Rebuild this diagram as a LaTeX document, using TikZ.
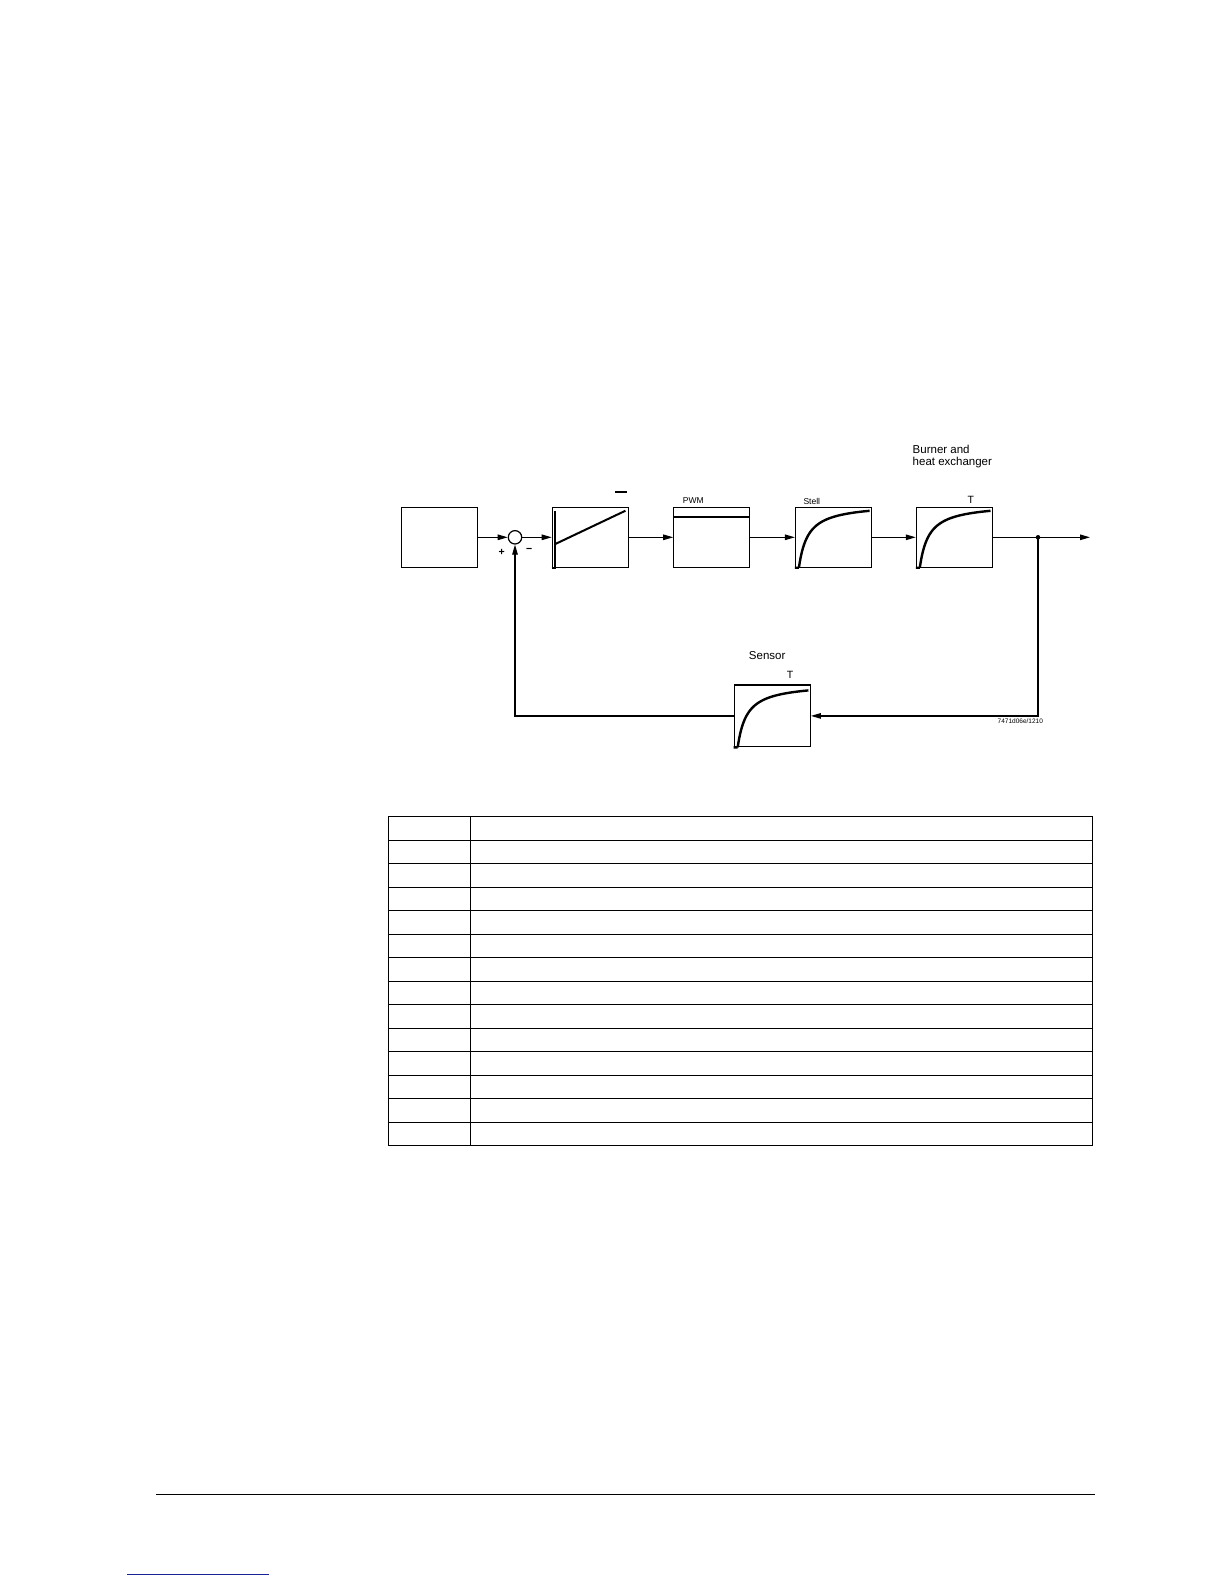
\documentclass[tikz,border=0pt]{standalone}
\usepackage{fontspec}
\setmainfont{Liberation Sans}
\usetikzlibrary{arrows.meta}

\definecolor{linkblue}{RGB}{25,35,150}

\tikzset{
  block/.style={draw, line width=1.2pt, minimum width=76pt, minimum height=59.7pt, inner sep=0pt},
  sumpt/.style={draw, circle, line width=1.2pt, minimum size=13.4pt, inner sep=0pt},
  sig/.style={line width=1.2pt, -{Triangle[length=10pt,width=5.5pt]}},
  wire/.style={line width=1.2pt},
  curve/.style={line width=2.4pt},
  tbl/.style={line width=1.4pt},
  lbl/.style={inner sep=0pt, font=\fontsize{11.5}{11.6}\selectfont},
  small/.style={inner sep=0pt, font=\fontsize{8.5}{9}\selectfont},
  tlbl/.style={inner sep=0pt, font=\fontsize{10.5}{11}\selectfont},
  tiny/.style={inner sep=0pt, font=\fontsize{6.5}{7}\selectfont},
}

% first order lag drawn inside a block
\newcommand{\lagcurve}[1]{%
  \draw[curve, shift={(#1.south west)}, y=1pt] (0,0) -- (4,0)
    plot[domain=0:70.7, samples=90] ({4+\x}, {64.3*\x/(\x+9.13)});}

\begin{document}
\begin{tikzpicture}[x=1pt, y=-1pt]
  \useasboundingbox (0,0) rectangle (1224,1584);

  \begin{scope}[every node/.style={block}]
    \node (setp) at (439.3,537.3) {};
    \node (ctrl) at (590.3,537.3) {};
    \node (pwm) at (711.8,537.3) {};
    \node (stell) at (833.5,537.3) {};
    \node (burner) at (954.4,537.3) {};
    \node[minimum height=61.7pt] (sensor) at (772.3,715.9) {};
  \end{scope}
  \node[sumpt] (sum) at (515,537.3) {};
  \coordinate (split) at (1038,537.3);
  \coordinate (out) at (1090,537.3);

  % block contents
  \begin{scope}[shift={(ctrl.south west)}, y=1pt]
    \draw[line width=2pt] (0,0) -- (3.5,0) -- (3.5,57);
    \draw[line width=2pt] (3.5,23.7) -- (73.7,57);
  \end{scope}
  \draw[wire] (615,492) -- (626.7,492);
  \begin{scope}[shift={(pwm.south west)}, y=1pt]
    \draw[line width=1.8pt] (0,51) -- (76,51);
  \end{scope}
  \lagcurve{stell}
  \lagcurve{burner}
  \lagcurve{sensor}

  % signal lines
  \begin{scope}[every edge/.style={draw, sig}]
    \path (setp) edge (sum);
    \path (sum) edge (ctrl);
    \path (ctrl) edge (pwm);
    \path (pwm) edge (stell);
    \path (stell) edge (burner);
    \path (split) edge (out);
  \end{scope}
  \draw[wire] (burner) -- (split);
  \draw[sig] (split) |- (sensor);
  \draw[sig] (sensor) -| (sum);
  \fill (split) circle (2.3);

  % labels
  \node[tlbl] (plus) at (501.7,552.3) {\textbf{+}};
  \node[tlbl] (minus) at (529.2,550) {\textbf{−}};
  \node[lbl, anchor=west, align=left] (burnerlbl) at (912.5,456.5) {Burner and\\heat exchanger};
  \node[small, anchor=west] (pwmlbl) at (682.7,500.7) {PWM};
  \node[small, anchor=west] (stelllbl) at (803.3,501) {Stell};
  \node[tlbl] (burnerT) at (970.7,500) {T};
  \node[lbl] (sensorlbl) at (767.2,656) {Sensor};
  \node[tlbl] (sensorT) at (790,675.3) {T};
  \node[tiny] (figid) at (1020.3,721) {7471d06e/1210};

  % table
  \draw[tbl] (388.5,816.5) rectangle (1092.5,1145.5);
  \draw[tbl] (470.5,816.5) -- (470.5,1145.5);
  \foreach \r in {1,...,13}{
    \pgfmathsetmacro{\rowy}{round(816+23.5*\r)+0.5}
    \draw[tbl] (388.5,\rowy) -- (1092.5,\rowy);
  }

  % page footer
  \draw[tbl] (156,1494.5) -- (1095,1494.5);
  \draw[tbl, linkblue] (127.3,1574.5) -- (269,1574.5);
\end{tikzpicture}
\end{document}
